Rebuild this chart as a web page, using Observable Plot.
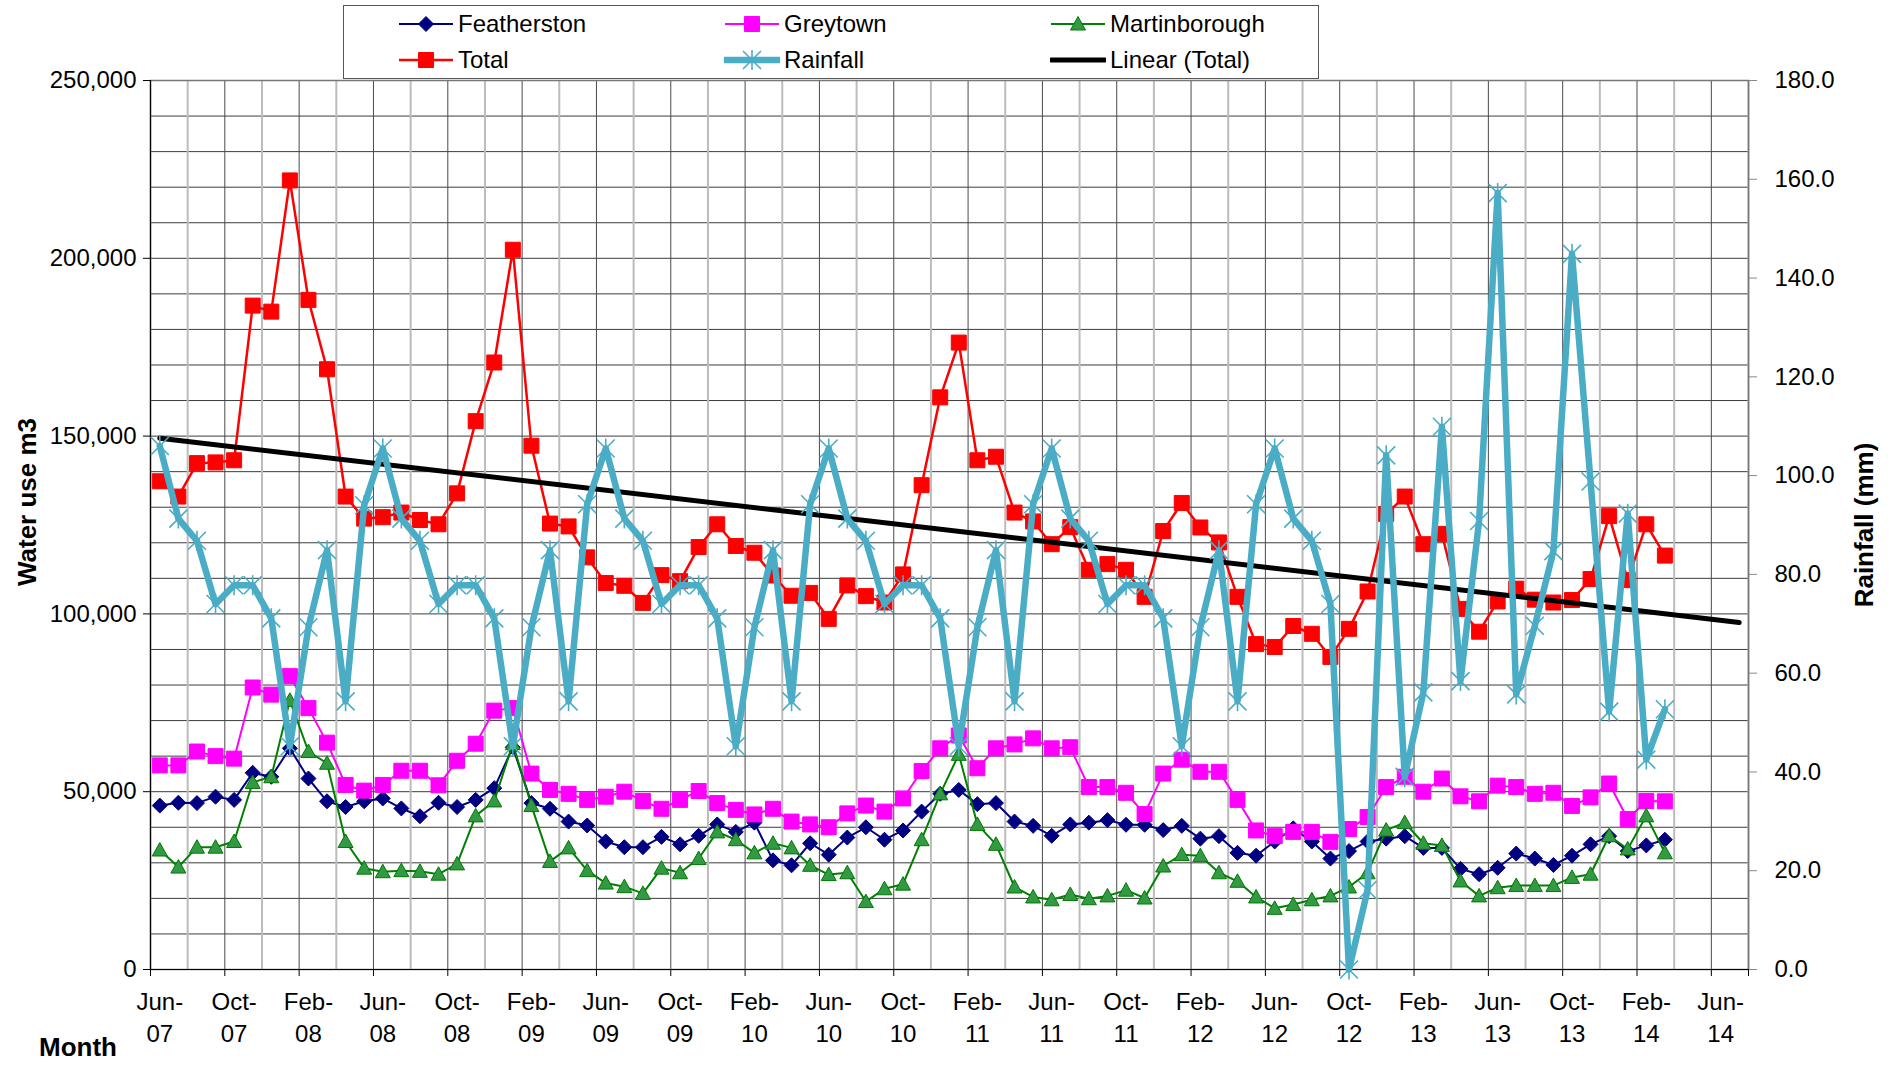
<!DOCTYPE html>
<html><head><meta charset="utf-8">
<script src="https://cdn.jsdelivr.net/npm/d3@7"></script>
<script src="https://cdn.jsdelivr.net/npm/@observablehq/plot@0.6"></script>
<style>
html,body{margin:0;padding:0;background:#fff;overflow:hidden;font-family:"Liberation Sans",Arial,sans-serif;}
#wrap{position:relative;width:1892px;height:1065px;overflow:hidden;}
#wrap > svg{position:absolute;left:0;top:0;}
.title{position:absolute;font-weight:bold;font-size:26px;white-space:nowrap;color:#000;}
#legend{position:absolute;left:343px;top:5px;width:976px;height:74px;border:1px solid #555;background:#fff;box-sizing:border-box;}
.item{position:absolute;height:30px;display:flex;align-items:center;font-size:24px;color:#000;white-space:nowrap;}
.item span{margin-left:4px;}
</style></head>
<body><div id="wrap"></div>
<script>
const months = ["Jun-07","Jul-07","Aug-07","Sep-07","Oct-07","Nov-07","Dec-07",
"Jan-08","Feb-08","Mar-08","Apr-08","May-08","Jun-08","Jul-08","Aug-08","Sep-08","Oct-08","Nov-08","Dec-08",
"Jan-09","Feb-09","Mar-09","Apr-09","May-09","Jun-09","Jul-09","Aug-09","Sep-09","Oct-09","Nov-09","Dec-09",
"Jan-10","Feb-10","Mar-10","Apr-10","May-10","Jun-10","Jul-10","Aug-10","Sep-10","Oct-10","Nov-10","Dec-10",
"Jan-11","Feb-11","Mar-11","Apr-11","May-11","Jun-11","Jul-11","Aug-11","Sep-11","Oct-11","Nov-11","Dec-11",
"Jan-12","Feb-12","Mar-12","Apr-12","May-12","Jun-12","Jul-12","Aug-12","Sep-12","Oct-12","Nov-12","Dec-12",
"Jan-13","Feb-13","Mar-13","Apr-13","May-13","Jun-13","Jul-13","Aug-13","Sep-13","Oct-13","Nov-13","Dec-13",
"Jan-14","Feb-14","Mar-14"];

const featherston = [46100,46900,46800,48600,47700,55300,54200,62200,53700,47300,
45700,47300,48100,45300,43100,46900,45700,47700,51000,62500,
46800,45200,41600,40500,36000,34400,34400,37300,35200,37600,
40800,38700,41300,30700,29300,35500,32300,37100,40000,36500,
39100,44400,49400,50500,46500,46800,41600,40400,37600,40800,
41300,42000,40700,40700,39200,40400,36800,37500,32800,32000,
36000,39700,36000,31200,33300,36000,36800,37500,34200,34200,
28300,26800,28600,32600,31200,29400,32000,35200,37500,33300,
34900,36500];

const greytown = [57400,57400,61300,60000,59300,79300,77300,82500,73500,63800,
51900,50300,51900,55900,55900,51800,58700,63500,72800,73500,
55100,50500,49400,47700,48600,50000,47400,45200,47700,50200,
46800,44900,43600,45200,41600,40800,40000,43900,46100,44400,
48100,55800,62200,65800,56600,62200,63300,65000,62200,62500,
51300,51300,49700,43700,55100,59000,55600,55600,47700,39100,
37500,38700,38700,35900,39500,42900,51300,54200,50000,53700,
48700,47300,51700,51300,49400,49700,46000,48400,52300,42300,
47400,47300];

const martinborough = [33600,28800,34400,34400,36000,52600,54200,75700,61300,58000,
36000,28500,27500,27800,27600,26800,29700,43200,47400,63500,
46100,30400,34200,27800,24300,23300,21400,28500,27200,31200,
38700,36500,32800,35500,34200,29300,26700,27200,19100,22700,
24000,36500,49400,60500,40800,35200,23200,20400,19600,21100,
19900,20700,22300,20100,29100,32300,32000,27200,24800,20400,
17200,18300,19600,20700,23200,27200,39200,41300,35500,34900,
24900,20700,23000,23600,23600,23600,25900,26800,37600,33900,
43200,32800];

const total = [137300,133000,142400,142600,143200,186700,185000,221900,188300,168800,
133000,126800,127200,128500,126400,125200,133900,154200,170700,202400,
147300,125400,124600,115900,108700,107900,103100,110900,109200,118800,
125200,119100,117200,110800,105100,105900,98600,108000,105000,103200,
111100,136200,160900,176300,143200,144200,128500,126000,119600,124400,
112400,114000,112400,104800,123300,131200,124300,120100,104800,91500,
90700,96600,94400,87900,95800,106300,128100,133000,119600,122500,
101400,95000,103500,107100,104000,103200,103900,109800,127500,109500,
125200,116400];

const rainfall = [106.0,91.3,86.8,74.0,77.8,77.8,71.1,45.2,69.3,84.9,54.3,94.0,
105.5,91.3,86.8,74.0,77.8,77.8,71.1,45.2,69.3,84.9,54.3,94.2,
105.5,91.3,86.8,74.0,77.8,77.8,71.1,45.2,69.3,84.9,54.3,94.2,
105.5,91.3,86.8,74.0,77.8,77.8,71.1,45.2,69.3,84.9,54.3,94.2,
105.5,91.3,86.8,74.0,77.8,77.8,71.1,45.2,69.3,84.9,54.3,94.2,
105.5,91.3,86.8,74.0,
0.0,16.1,104.1,39.0,56.1,109.9,58.4,90.8,157.2,55.7,69.6,84.7,144.9,98.8,52.2,92.3,42.5,52.7];

// Linear (Total) trendline end points: [month index, value]
const trendIdx = [0, 85];
const trendVals = [149400, 97600];

const xTickPos = [0,4,8,12,16,20,24,28,32,36,40,44,48,52,56,60,64,68,72,76,80,84];
const xTickLabels = ["Jun-\n07","Oct-\n07","Feb-\n08","Jun-\n08","Oct-\n08","Feb-\n09","Jun-\n09","Oct-\n09",
"Feb-\n10","Jun-\n10","Oct-\n10","Feb-\n11","Jun-\n11","Oct-\n11","Feb-\n12","Jun-\n12","Oct-\n12",
"Feb-\n13","Jun-\n13","Oct-\n13","Feb-\n14","Jun-\n14"];
const leftTicks = [0,50000,100000,150000,200000,250000];
const rightTicks = [0,20,40,60,80,100,120,140,160,180];

// ---------- layout ----------
const W = 1892, H = 1065;
const M = {marginLeft:150, marginRight:144, marginTop:80, marginBottom:96};
const xDomain = [-0.5, 85.5];
const majorX = d3.range(3.5, 85, 4);
const minorX = d3.range(1.5, 86, 4);
const yGrid = d3.range(10000, 250001, 10000);

// symbols
const diamondSym = {draw(c){const h=7.5;c.moveTo(0,-h);c.lineTo(h,0);c.lineTo(0,h);c.lineTo(-h,0);c.closePath();}};
const squareSym = {draw(c){const h=7.5;c.moveTo(-h,-h);c.lineTo(h,-h);c.lineTo(h,h);c.lineTo(-h,h);c.closePath();}};
const triSym = {draw(c){const h=7.5;c.moveTo(0,-h);c.lineTo(h,h*0.8);c.lineTo(-h,h*0.8);c.closePath();}};
const starSym = {draw(c){const h=9;c.moveTo(-h,-h);c.lineTo(h,h);c.moveTo(h,-h);c.lineTo(-h,h);c.moveTo(0,-h-1);c.lineTo(0,h+1);}};

const rows = arr => arr.map((v,i)=>({i, month: months[i], v}));

const series = [
  {name:"Featherston", data:featherston, stroke:"#000080", fill:"#000080", mstroke:"#000080", sym:diamondSym, sw:2},
  {name:"Greytown", data:greytown, stroke:"#FF00FF", fill:"#FF00FF", mstroke:"#FF00FF", sym:squareSym, sw:2},
  {name:"Martinborough", data:martinborough, stroke:"#008000", fill:"#339944", mstroke:"#007A00", sym:triSym, sw:2},
  {name:"Total", data:total, stroke:"#FF0000", fill:"#FF0000", mstroke:"#FF0000", sym:squareSym, sw:2.5}
];

const seriesMarks = series.flatMap(s => [
  Plot.line(rows(s.data), {x:"i", y:"v", stroke:s.stroke, strokeWidth:s.sw}),
  Plot.dot(rows(s.data), {x:"i", y:"v", symbol:s.sym, r:1, fill:s.fill, stroke:s.mstroke, strokeWidth:1})
]);

const trendRows = trendIdx.map((t,k)=>({i:t, v:trendVals[k]}));
const xTicks = xTickPos.map((p,k)=>({p, label:xTickLabels[k]}));

const base = Plot.plot({
  width:W, height:H, ...M,
  x:{domain:xDomain, axis:null},
  y:{domain:[0,250000]},
  style:{fontFamily:"'Liberation Sans', Arial, sans-serif", fontSize:"24px", color:"#000", background:"#fff", overflow:"visible"},
  marks:[
    Plot.ruleY(yGrid, {stroke:"#3c3c3c", strokeWidth:1}),
    Plot.ruleX(minorX, {stroke:"#bcbcbc", strokeWidth:2}),
    Plot.ruleX(majorX, {stroke:"#4a4a4a", strokeWidth:1}),
    Plot.frame({stroke:"#777", strokeWidth:1.5}),
    Plot.ruleX([-0.5], {stroke:"#000", strokeWidth:1.2}),
    Plot.ruleY([0], {stroke:"#000", strokeWidth:1.2}),
    Plot.axisY(leftTicks, {tickSize:7, tickPadding:7, tickFormat:d3.format(","), label:null}),
    Plot.axisX([-0.5, ...majorX, 85.5], {tickSize:7, tickFormat:()=>"", label:null}),
    Plot.text(xTicks, {x:"p", frameAnchor:"bottom", text:"label", dy:72, lineHeight:1.33, fontSize:24}),
    ...seriesMarks,
    Plot.line(trendRows, {x:"i", y:"v", stroke:"#000", strokeWidth:5})
  ]
});

const overlay = Plot.plot({
  width:W, height:H, ...M,
  x:{domain:xDomain, axis:null},
  y:{domain:[0,180]},
  style:{fontFamily:"'Liberation Sans', Arial, sans-serif", fontSize:"24px", color:"#000", background:"none", overflow:"visible"},
  marks:[
    Plot.line(rows(rainfall), {x:"i", y:"v", stroke:"#4BACC6", strokeWidth:6.5}),
    Plot.dot(rows(rainfall), {x:"i", y:"v", symbol:starSym, r:1, fill:"none", stroke:"#4BACC6", strokeWidth:1.6}),
    Plot.axisY(rightTicks, {anchor:"right", tickSize:8, tickPadding:18, stroke:"#888", tickFormat:d=>d.toFixed(1), label:null})
  ]
});

const wrap = document.getElementById("wrap");
wrap.appendChild(base);
wrap.appendChild(overlay);

// ---------- legend ----------
const legend = document.createElement("div");
legend.id = "legend";
wrap.appendChild(legend);
const legendItems = [
  {name:"Featherston", stroke:"#000080", fill:"#000080", mstroke:"#000080", sym:diamondSym, sw:2, col:0, row:0},
  {name:"Greytown", stroke:"#FF00FF", fill:"#FF00FF", mstroke:"#FF00FF", sym:squareSym, sw:2, col:1, row:0},
  {name:"Martinborough", stroke:"#008000", fill:"#339944", mstroke:"#007A00", sym:triSym, sw:2, col:2, row:0},
  {name:"Total", stroke:"#FF0000", fill:"#FF0000", mstroke:"#FF0000", sym:squareSym, sw:2.5, col:0, row:1},
  {name:"Rainfall", stroke:"#4BACC6", fill:"none", mstroke:"#4BACC6", sym:starSym, sw:6.5, col:1, row:1},
  {name:"Linear (Total)", stroke:"#000", fill:null, sym:null, sw:5, col:2, row:1}
];
const colX = [54, 380, 706], rowY = [18, 54];
for (const it of legendItems) {
  const d = document.createElement("div");
  d.className = "item";
  d.style.left = colX[it.col] + "px";
  d.style.top = (rowY[it.row] - 15) + "px";
  const svg = d3.create("svg").attr("width", 56).attr("height", 30);
  svg.append("line").attr("x1",1).attr("x2",55).attr("y1",15).attr("y2",15)
     .attr("stroke", it.stroke).attr("stroke-width", it.sw).attr("stroke-linecap", it.sw>4 ? "round" : "butt");
  if (it.sym) {
    svg.append("path").attr("transform","translate(28,15)").attr("d", d3.symbol(it.sym)())
       .attr("fill", it.fill).attr("stroke", it.mstroke).attr("stroke-width", it.sym===starSym?1.6:1);
  }
  d.appendChild(svg.node());
  const sp = document.createElement("span");
  sp.textContent = it.name;
  d.appendChild(sp);
  legend.appendChild(d);
}

// ---------- axis titles ----------
function title(text, x, y, rot) {
  const t = document.createElement("div");
  t.className = "title";
  t.textContent = text;
  t.style.left = x + "px";
  t.style.top = y + "px";
  t.style.transform = "translate(-50%,-50%)" + (rot ? " rotate(" + rot + "deg)" : "");
  wrap.appendChild(t);
}
title("Water use m3", 27, 502, -90);
title("Rainfall (mm)", 1864, 525, -90);
title("Month", 78, 1047, 0);
</script></body></html>
